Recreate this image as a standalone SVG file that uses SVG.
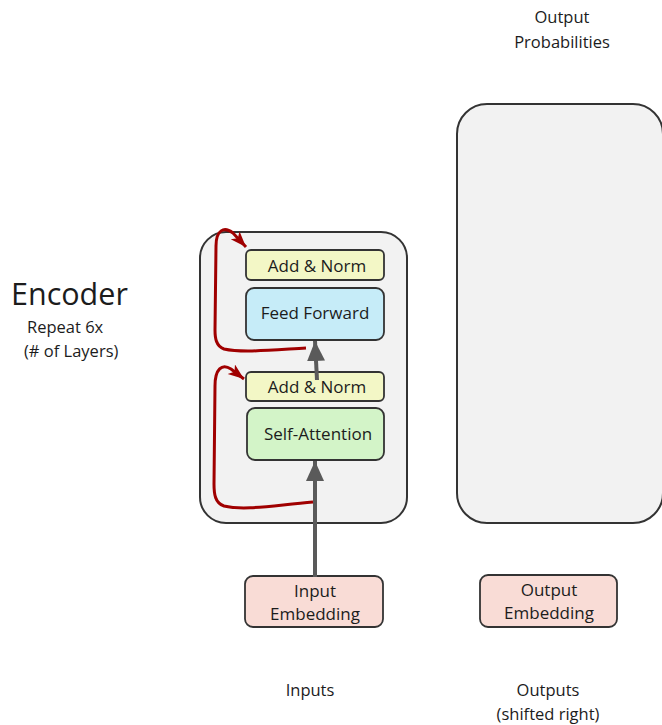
<svg xmlns="http://www.w3.org/2000/svg" width="662" height="725" viewBox="0 0 662 725">
  <style>
    text { font-family: "Open Sans", "Liberation Sans", sans-serif; fill: #1c1c1c; text-anchor: middle; }
    .lbl { font-size: 16.5px; }
    .box { font-size: 17px; }
    .left { text-anchor: start; }
    .stack { fill: #f2f2f2; stroke: #333; stroke-width: 2; }
    .blk { stroke: #333; stroke-width: 1.8; }
    .norm { fill: #f3f7c6; }
    .ff { fill: #c6ecf8; }
    .att { fill: #d3f4c8; }
    .emb { fill: #f9dcd6; }
    .flow { fill: none; stroke: #5a5a5a; stroke-width: 4; }
    .res { fill: none; stroke: #a00000; stroke-width: 3; }
  </style>
  <defs>
    <marker id="grayHead" markerUnits="userSpaceOnUse" markerWidth="20" markerHeight="22" refX="20" refY="9" orient="auto">
      <path d="M0,0 L20,9 L0,18 Z" fill="#5a5a5a"/>
    </marker>
    <marker id="redHead" markerUnits="userSpaceOnUse" markerWidth="17" markerHeight="14" refX="16" refY="6" orient="auto">
      <path d="M0,0 L16,6 L0,12 L4,6 Z" fill="#a00000"/>
    </marker>
  </defs>

  <rect width="662" height="725" fill="#ffffff"/>

  <!-- stack outlines -->
  <g id="encoder-stack">
    <rect class="stack" x="200" y="232" width="207" height="291" rx="26"/>
  </g>
  <g id="decoder-stack">
    <rect class="stack" x="457" y="104" width="206" height="419" rx="30"/>
  </g>

  <!-- encoder layers -->
  <g id="add-norm-top">
    <rect class="blk norm" x="246" y="250" width="138" height="30" rx="5"/>
    <text class="box" x="317" y="272">Add &amp; Norm</text>
  </g>
  <g id="feed-forward">
    <rect class="blk ff" x="246" y="288" width="138" height="52" rx="8"/>
    <text class="box" x="315" y="319">Feed Forward</text>
  </g>
  <g id="add-norm-bottom">
    <rect class="blk norm" x="246" y="372" width="138" height="29" rx="5"/>
    <text class="box" x="317" y="393">Add &amp; Norm</text>
  </g>
  <g id="self-attention">
    <rect class="blk att" x="247" y="408" width="137" height="52" rx="8"/>
    <text class="box" x="318" y="440">Self-Attention</text>
  </g>

  <!-- embeddings -->
  <g id="input-embedding">
    <rect class="blk emb" x="245" y="576" width="138" height="51" rx="8"/>
    <text class="box" x="315" y="597">Input</text>
    <text class="box" x="315" y="620">Embedding</text>
  </g>
  <g id="output-embedding">
    <rect class="blk emb" x="480" y="575" width="137" height="52" rx="8"/>
    <text class="box" x="549" y="596">Output</text>
    <text class="box" x="549" y="619">Embedding</text>
  </g>

  <!-- labels -->
  <g id="encoder-label">
    <text class="left" x="11" y="305" style="font-size:30.5px">Encoder</text>
    <text class="lbl left" x="27" y="333">Repeat 6x</text>
    <text class="lbl left" x="24" y="357">(# of Layers)</text>
  </g>
  <g id="output-probabilities">
    <text class="lbl" x="562" y="23">Output</text>
    <text class="lbl" x="562" y="48">Probabilities</text>
  </g>
  <g id="inputs">
    <text class="lbl" x="310" y="696">Inputs</text>
  </g>
  <g id="outputs">
    <text class="lbl" x="548" y="696">Outputs</text>
    <text class="lbl" x="548" y="720">(shifted right)</text>
  </g>

  <!-- connectors -->
  <g id="connectors">
    <path class="flow" d="M315,577 L315,461" marker-end="url(#grayHead)"/>
    <path class="flow" d="M317,380 L315,341" marker-end="url(#grayHead)"/>
    <path class="res" d="M313,502 C275,505 245,511 224,506 C215,503 214,494 214,484 L215,386 C215,369 222,363 231,369 L244,379" marker-end="url(#redHead)"/>
    <path class="res" d="M306,348 C272,350 242,353 224,349 C216,346 215,338 215,330 L216,246 C216,230 224,226 233,233 L246,247" marker-end="url(#redHead)"/>
  </g>
</svg>
